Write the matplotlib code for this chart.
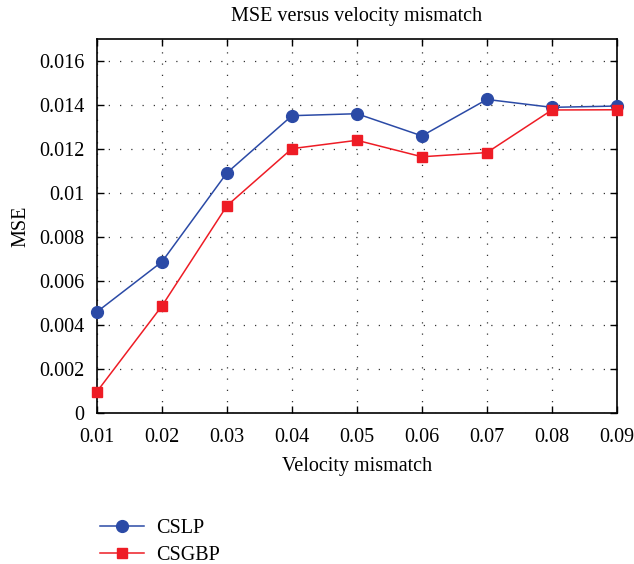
import matplotlib
matplotlib.use("Agg")
from matplotlib import pyplot as plt

mismatch = [0.01, 0.02, 0.03, 0.04, 0.05, 0.06, 0.07, 0.08, 0.09]
mse_cslp = [0.0046, 0.00688, 0.01093, 0.01353, 0.01362, 0.01261, 0.01427, 0.01391, 0.01397]
mse_csgbp = [0.00097, 0.00487, 0.00943, 0.01203, 0.01241, 0.01166, 0.01185, 0.01379, 0.0138]
yticks = [0, 0.002, 0.004, 0.006, 0.008, 0.01, 0.012, 0.014, 0.016]
ytick_labels = ['0', '0.002', '0.004', '0.006', '0.008', '0.01', '0.012', '0.014', '0.016']

plt.rcParams['font.family'] = ['Liberation Serif', 'DejaVu Serif']

fig = plt.figure(figsize=(6.34, 5.64), dpi=100)
ax = fig.add_axes([0.153, 0.268, 0.820, 0.662])

ax.plot(mismatch, mse_cslp, color='#2b4aa6', lw=1.1, marker='o', ms=8.5,
        label='CSLP', clip_on=False, zorder=3)
ax.plot(mismatch, mse_csgbp, color='#ee1c25', lw=1.1, marker='s', ms=7,
        label='CSGBP', clip_on=False, zorder=3)

ax.set_xlim(0.01, 0.09)
ax.set_ylim(0, 0.017)
ax.set_xticks(mismatch)
ax.set_xticklabels(['%.2f' % v for v in mismatch])
ax.set_yticks(yticks)
ax.set_yticklabels(ytick_labels)
ax.tick_params(direction='in', top=True, right=True, labelsize=14.5, length=5, width=1)
ax.tick_params(axis='y', pad=9)
ax.tick_params(axis='x', pad=11)
ax.grid(True, linestyle=(0, (1, 8)), color='#333333', lw=0.9)
for s in ax.spines.values():
    s.set_linewidth(1.2)

ax.set_title('MSE versus velocity mismatch', fontsize=14.5, pad=13)
ax.set_xlabel('Velocity mismatch', fontsize=14.5, labelpad=7)
ax.set_ylabel('MSE', fontsize=14.5, labelpad=6)

fig.legend(loc='upper left', bbox_to_anchor=(0.145, 0.095), frameon=False, fontsize=14.5,
           handlelength=2.2, handletextpad=0.6, labelspacing=0.4, borderaxespad=0)

fig.savefig('out.png', dpi=100)
